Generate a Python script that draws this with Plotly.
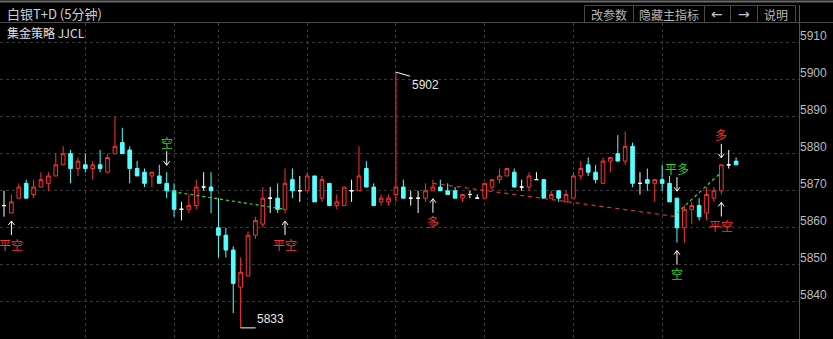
import plotly.graph_objects as go

# ---------------- data ----------------
opens = [5866,5864,5868,5872,5869,5871,5872,5874,5877,5880,
         5876,5877,5876,5877,5875,5880,5883,5881,5876,5875,
         5874,5874,5872,5870,5865,5865,5866,5871,5871,5860,
         5858,5854,5844,5847,5858,5861,5868,5868,5865,5873,
         5870,5870,5874,5868,5872,5866,5866,5870,5870,5876,
         5871,5867,5867,5869,5871,5868,5868,5868,5870,5871,
         5870,5870,5868,5869,5868,5868,5871,5873,5874,5875,
         5871,5871,5873,5873,5868,5870,5867,5868,5874,5877,
         5875,5872,5878,5880,5878,5882,5872,5873,5872,5873,
         5872,5868,5860,5865,5866,5864,5868,5870,5877,5878]
highs = [5870,5869,5872,5873,5873,5875,5875,5880,5882,5881,
         5879,5880,5878,5881,5880,5890,5887,5882,5878,5876,
         5875,5877,5875,5872,5867,5869,5873,5875,5875,5868,
         5860,5855,5852,5859,5863,5871,5871,5872,5876,5876,
         5874,5875,5874,5874,5872,5869,5871,5873,5882,5878,
         5872,5869,5869,5902,5873,5870,5870,5872,5873,5873,
         5872,5871,5869,5870,5869,5872,5873,5876,5876,5876,
         5873,5875,5875,5873,5870,5870,5870,5875,5878,5879,
         5877,5879,5879,5885,5886,5883,5875,5876,5873,5877,
         5874,5868,5866,5867,5868,5871,5871,5877,5881,5879]
lows = [5863,5864,5868,5868,5868,5871,5870,5874,5877,5872,
        5874,5875,5873,5875,5875,5880,5880,5872,5874,5871,
        5871,5872,5868,5863,5862,5864,5865,5870,5864,5852,
        5852,5837,5833,5847,5857,5860,5864,5864,5864,5868,
        5867,5870,5867,5867,5866,5865,5866,5867,5870,5871,
        5866,5866,5866,5867,5868,5866,5864,5867,5870,5870,
        5869,5868,5867,5868,5868,5868,5870,5872,5874,5871,
        5870,5870,5873,5868,5868,5867,5867,5868,5873,5874,
        5872,5872,5875,5878,5877,5871,5869,5870,5867,5870,
        5867,5856,5856,5861,5862,5862,5867,5869,5876,5877]
closes = [5866,5867,5871,5868,5871,5873,5874,5877,5880,5876,
          5878,5876,5877,5876,5879,5882,5880,5876,5874,5872,
          5875,5872,5870,5865,5865,5866,5871,5871,5870,5858,
          5854,5845,5848,5858,5862,5868,5868,5865,5872,5870,
          5870,5874,5867,5873,5866,5867,5871,5870,5874,5871,
          5866,5868,5868,5871,5868,5868,5868,5870,5871,5870,
          5869,5868,5869,5869,5868,5872,5873,5874,5876,5871,
          5871,5874,5873,5868,5869,5868,5869,5874,5876,5875,
          5873,5878,5879,5878,5882,5872,5872,5872,5873,5872,
          5867,5860,5865,5866,5863,5869,5870,5877,5877,5877]

vgrid_idx = [11, 23, 29, 41, 53, 65, 77, 89]
ytick_vals = [5840, 5850, 5860, 5870, 5880, 5890, 5900, 5910]

sig_idx = [1, 22, 38, 58, 91, 91, 97, 97]
sig_text = ["平空", "空", "平空", "多", "平多", "空", "平空", "多"]
sig_side = ["below", "above", "below", "below", "above", "below", "below", "above"]

trade1_x = [22, 38]
trade1_y = [5870, 5865]
trade2_x = [58, 91]
trade2_y = [5872, 5863]
trade3_x = [91, 97]
trade3_y = [5864, 5875]

title_text = "白银T+D (5分钟)"
sub_text = "集金策略 JJCL"
button_labels = ["改参数", "隐藏主指标", "←", "→", "说明"]

# ---------------- styling ----------------
RED = "#ff3232"
CYAN = "#54ffff"
GREEN = "#2bd42b"
WHITE = "#ffffff"
GRID = "#3a3a3a"
BORDER = "#555555"
TXT = "#d0d0d0"
CJK = "Noto Sans CJK SC"

W, H = 833, 339
ML, MR, MT, MB = 0, 34, 23, 0
PW, PH = W - ML - MR, H - MT - MB


def px(xp):
    return (xp - ML) / PW


def py(yp):
    return 1 - (yp - MT) / PH


n = len(opens)
xs = list(range(n))
reg = [i for i in xs if opens[i] != closes[i]]
doj = [i for i in xs if opens[i] == closes[i]]

fig = go.Figure()
fig.add_trace(go.Candlestick(
    x=reg, open=[opens[i] for i in reg], high=[highs[i] for i in reg],
    low=[lows[i] for i in reg], close=[closes[i] for i in reg],
    increasing=dict(line=dict(color=RED, width=1), fillcolor="#000000"),
    decreasing=dict(line=dict(color=CYAN, width=1), fillcolor=CYAN),
    whiskerwidth=0, hoverinfo="skip", showlegend=False))
fig.add_trace(go.Candlestick(
    x=doj, open=[opens[i] for i in doj], high=[highs[i] for i in doj],
    low=[lows[i] for i in doj], close=[closes[i] for i in doj],
    increasing=dict(line=dict(color=WHITE, width=1), fillcolor=WHITE),
    decreasing=dict(line=dict(color=WHITE, width=1), fillcolor=WHITE),
    whiskerwidth=0, hoverinfo="skip", showlegend=False))

for tx, ty, col, dash in [(trade1_x, trade1_y, "#3ae03a", "3px,3px"),
                          (trade2_x, trade2_y, "#e03434", "4px,4px"),
                          (trade3_x, trade3_y, "#3ae03a", "3px,3px")]:
    fig.add_trace(go.Scatter(x=tx, y=ty, mode="lines",
                             line=dict(color=col, width=1.2, dash=dash),
                             hoverinfo="skip", showlegend=False))

shapes = []
annots = []

# signals: arrows + labels
for k, t, side in zip(sig_idx, sig_text, sig_side):
    col = RED if t in ("平空", "多") else GREEN
    if side == "below":
        anchor = lows[k]
        path = "M0,-8 L0,-22 M-3,-12 L0,-8 L3,-12"
        ysh = -31
    else:
        anchor = highs[k]
        path = "M0,7 L0,21 M-3,11 L0,7 L3,11"
        ysh = 30
    shapes.append(dict(type="path", xref="x", yref="y", xsizemode="pixel",
                       ysizemode="pixel", xanchor=k, yanchor=anchor, path=path,
                       line=dict(color=WHITE, width=1)))
    annots.append(dict(x=k, y=anchor, xref="x", yref="y", text=t, showarrow=False,
                       yshift=ysh, font=dict(family=CJK, size=12, color=col),
                       xanchor="center", yanchor="middle"))

# max / min markers
imax = max(xs, key=lambda i: highs[i])
imin = min(xs, key=lambda i: lows[i])
shapes.append(dict(type="path", xref="x", yref="y", xsizemode="pixel", ysizemode="pixel",
                   xanchor=imax, yanchor=highs[imax], path="M0,0 L14,-4",
                   line=dict(color=WHITE, width=1)))
annots.append(dict(x=imax, y=highs[imax], xref="x", yref="y", text=str(highs[imax]),
                   showarrow=False, xanchor="left", yanchor="middle", xshift=14, yshift=-13,
                   font=dict(family="Liberation Sans, Arial", size=12, color="#e8e8e8")))
shapes.append(dict(type="path", xref="x", yref="y", xsizemode="pixel", ysizemode="pixel",
                   xanchor=imin, yanchor=lows[imin], path="M0,0 L15,0",
                   line=dict(color=WHITE, width=1)))
annots.append(dict(x=imin, y=lows[imin], xref="x", yref="y", text=str(lows[imin]),
                   showarrow=False, xanchor="left", yanchor="middle", xshift=14, yshift=9,
                   font=dict(family="Liberation Sans, Arial", size=12, color="#e8e8e8")))

# header / frame
shapes.append(dict(type="line", xref="paper", yref="paper", x0=px(0), x1=px(W),
                   y0=py(1.5), y1=py(1.5), line=dict(color="#6a6a6a", width=2)))
shapes.append(dict(type="line", xref="paper", yref="paper", x0=px(0), x1=px(W),
                   y0=py(22.5), y1=py(22.5), line=dict(color="#4a4a4a", width=1)))
shapes.append(dict(type="line", xref="paper", yref="paper", x0=px(799.5), x1=px(799.5),
                   y0=py(5), y1=py(H), line=dict(color=BORDER, width=1)))

edges = [584, 633, 704, 730, 757, 795]
for i, lab in enumerate(button_labels):
    x0, x1 = edges[i], edges[i + 1]
    shapes.append(dict(type="rect", xref="paper", yref="paper", x0=px(x0 + 0.5), x1=px(x1 + 0.5),
                       y0=py(22.5), y1=py(5.5), line=dict(color="#4a4a4a", width=1)))
    arrow = lab in ("←", "→")
    annots.append(dict(x=px((x0 + x1) / 2), y=py(14), xref="paper", yref="paper", text=lab,
                       showarrow=False, xanchor="center", yanchor="middle",
                       font=dict(family=("DejaVu Sans" if arrow else CJK), size=(14 if arrow else 12),
                                 color="#c0c8d8" if arrow else "#b8b8b8")))

annots.append(dict(x=px(5), y=py(13), xref="paper", yref="paper", text=title_text,
                   showarrow=False, xanchor="left", yanchor="middle",
                   font=dict(family=CJK, size=13, color=TXT)))
annots.append(dict(x=px(5), y=py(32), xref="paper", yref="paper", text=sub_text,
                   showarrow=False, xanchor="left", yanchor="middle",
                   font=dict(family=CJK, size=12, color="#e0e0e0")))

spacing = 7.395
x0r = -4 / spacing
x1r = x0r + PW / spacing
ppu = 3.706
y0r = 5830.0
y1r = y0r + PH / ppu

fig.update_layout(
    width=W, height=H, margin=dict(l=ML, r=MR, t=MT, b=MB),
    paper_bgcolor="#000000", plot_bgcolor="#000000",
    shapes=shapes, annotations=annots, showlegend=False,
    xaxis=dict(range=[x0r, x1r], rangeslider=dict(visible=False), showticklabels=False,
               tickvals=vgrid_idx, showgrid=True, gridcolor=GRID, griddash="dot", gridwidth=1,
               zeroline=False, showline=False, ticks=""),
    yaxis=dict(range=[y0r, y1r], side="right", tickvals=ytick_vals,
               showgrid=True, gridcolor=GRID, griddash="dot", gridwidth=1,
               zeroline=False, showline=False, ticks="", ticklabelshift=-7,
               ticklabelstandoff=0,
               tickfont=dict(family="Liberation Sans, Arial", size=12, color="#bcbcbc")),
)

fig.write_html("out.html")
